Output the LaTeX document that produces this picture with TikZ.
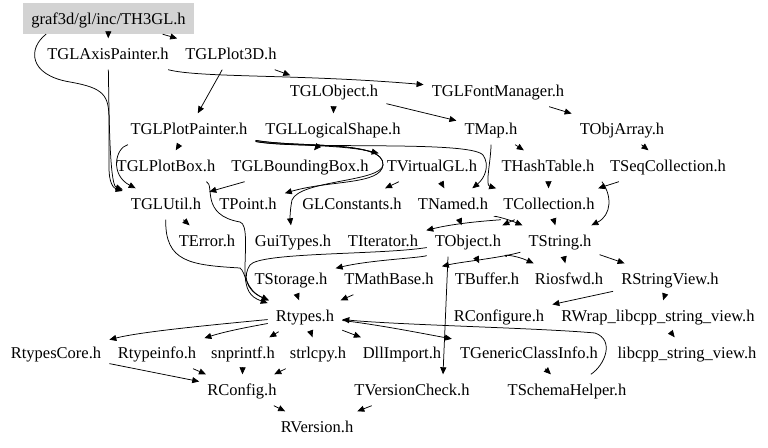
\documentclass[tikz,border=0pt]{standalone}
\usepackage{fontspec}
\setmainfont{Liberation Serif}
\usetikzlibrary{arrows.meta}
\definecolor{rootgray}{RGB}{211,211,211}
\begin{document}
\begin{tikzpicture}[x=1pt,y=-1pt,
  nd/.style={inner xsep=8pt, inner ysep=0pt, minimum height=31pt, text height=12pt, text depth=1pt, font=\fontsize{16.5}{18}\selectfont},
  e/.style={draw=black, line width=0.75pt, -{Triangle[length=7pt,width=6pt]}}]
\fill[white] (0,0) rectangle (768,447);
\useasboundingbox (0,0) rectangle (768,447);
% nodes
\node[nd, fill=rootgray] (th3gl) at (108.5,18.5) {graf3d/gl/inc/TH3GL.h};
\node[nd] (axis) at (108,54) {TGLAxisPainter.h};
\node[nd] (plot3d) at (231,54) {TGLPlot3D.h};
\node[nd] (globj) at (334,91) {TGLObject.h};
\node[nd] (fontmgr) at (498,91) {TGLFontManager.h};
\node[nd] (plotpainter) at (189,129) {TGLPlotPainter.h};
\node[nd] (logshape) at (333,129) {TGLLogicalShape.h};
\node[nd] (tmap) at (491,129) {TMap.h};
\node[nd] (objarr) at (622,129) {TObjArray.h};
\node[nd] (plotbox) at (166,166) {TGLPlotBox.h};
\node[nd] (bbox) at (300,166) {TGLBoundingBox.h};
\node[nd] (vgl) at (432,166) {TVirtualGL.h};
\node[nd] (hasht) at (548,166) {THashTable.h};
\node[nd] (seqcol) at (668,166) {TSeqCollection.h};
\node[nd] (glutil) at (166,204) {TGLUtil.h};
\node[nd] (tpoint) at (248,204) {TPoint.h};
\node[nd] (glconst) at (352,204) {GLConstants.h};
\node[nd] (tnamed) at (453,204) {TNamed.h};
\node[nd] (tcoll) at (549,204) {TCollection.h};
\node[nd] (terror) at (207,241) {TError.h};
\node[nd] (guitypes) at (293,241) {GuiTypes.h};
\node[nd] (titer) at (383,241) {TIterator.h};
\node[nd] (tobject) at (468,241) {TObject.h};
\node[nd] (tstring) at (560,241) {TString.h};
\node[nd] (tstorage) at (291,279) {TStorage.h};
\node[nd] (tmathbase) at (389,279) {TMathBase.h};
\node[nd] (tbuffer) at (487,279) {TBuffer.h};
\node[nd] (riosfwd) at (569,279) {Riosfwd.h};
\node[nd] (rstrview) at (670,279) {RStringView.h};
\node[nd] (rtypes) at (305,316) {Rtypes.h};
\node[nd] (rconfigure) at (499,316) {RConfigure.h};
\node[nd] (rwrap) at (658,316) {RWrap\_libcpp\_string\_view.h};
\node[nd] (rtypescore) at (56,353) {RtypesCore.h};
\node[nd] (rtypeinfo) at (157,353) {Rtypeinfo.h};
\node[nd] (snprintf) at (243,353) {snprintf.h};
\node[nd] (strlcpy) at (318,353) {strlcpy.h};
\node[nd] (dllimport) at (402,353) {DllImport.h};
\node[nd] (tgenci) at (529,353) {TGenericClassInfo.h};
\node[nd] (libcpp) at (687,353) {libcpp\_string\_view.h};
\node[nd] (rconfig) at (242,390) {RConfig.h};
\node[nd] (tvercheck) at (412,390) {TVersionCheck.h};
\node[nd] (tschema) at (567,390) {TSchemaHelper.h};
\node[nd] (rversion) at (317,427) {RVersion.h};
% edges
\draw[e] (th3gl) -- (axis);
\draw[e] (th3gl) -- (plot3d);
\draw[e] ([xshift=23pt]th3gl.south west) .. controls (28,48) and (28,75) .. (70,82) .. controls (104,88) and (109,95) .. (109,120) -- (109,168) .. controls (109,182) and (113,188) .. (glutil);
\draw[e] (axis) .. controls (109,100) and (109,185) .. (glutil);
\draw[e] (plotpainter) .. controls (115,148) and (110,175) .. (glutil);
\draw[e] (axis) .. controls (200,78) and (300,74) .. (fontmgr);
\draw[e] (plot3d) -- (globj);
\draw[e] (plot3d) -- (plotpainter);
\draw[e] (globj) -- (logshape);
\draw[e] (globj) -- (tmap);
\draw[e] (fontmgr) -- (objarr);
\draw[e] (plotpainter) -- (plotbox);
\draw[e] (plotpainter) .. controls (280,146) and (340,144) .. (vgl);
\draw[e] (plotpainter) .. controls (300,148) and (385,140) .. (383,165) .. controls (381,185) and (330,180) .. (tpoint);
\draw[e] (plotpainter) .. controls (300,148) and (385,140) .. (383,165) .. controls (381,182) and (300,180) .. (292,200) .. controls (290,210) and (290,218) .. (guitypes);
\draw[e] (logshape) -- (bbox);
\draw[e] (plotpainter) .. controls (300,150) and (470,140) .. (483,155) .. controls (490,165) and (485,178) .. (tnamed);
\draw[e] (tmap) -- (hasht);
\draw[e] (tmap) .. controls (491,160) and (485,185) .. (tcoll);
\draw[e] (objarr) -- (seqcol);
\draw[e] (vgl) -- (glconst);
\draw[e] (vgl) -- (tnamed);
\draw[e] (hasht) -- (tcoll);
\draw[e] (seqcol) -- (tcoll);
\draw[e] (seqcol.south west) .. controls (612,195) and (612,215) .. (tstring);
\draw[e] (tcoll) -- (tstring);
\draw[e] (tcoll) .. controls (500,220) and (460,222) .. (titer);
\draw[e] (tnamed) -- (tobject);
\draw[e] (tnamed) .. controls (490,215) and (505,218) .. (tstring);
\draw[e] (tcoll) -- (tobject);
\draw[e] (tobject) .. controls (420,258) and (370,260) .. (tstorage);
\draw[e] (tobject) .. controls (380,255) and (260,252) .. (250,265) .. controls (243,275) and (245,290) .. (rtypes);
\draw[e] (glutil) .. controls (165,262) and (190,265) .. (240,268) .. controls (246,272) and (245,290) .. (rtypes);
\draw[e] (plotbox) .. controls (215,185) and (200,215) .. (240,222) .. controls (248,224) and (245,250) .. (245,270) .. controls (245,290) and (250,297) .. (rtypes);
\draw[e] (glutil) -- (terror);
\draw[e] (bbox) -- (glutil);
\draw[e] (tstring) .. controls (500,258) and (460,262) .. (tmathbase);
\draw[e] (tobject) -- (tbuffer);
\draw[e] (tobject) .. controls (500,254) and (515,255) .. (riosfwd);
\draw[e] ([xshift=-20pt]tobject.south) -- ([xshift=31pt]tvercheck.north);
\draw[e] (tstring) -- (riosfwd);
\draw[e] (tstring) -- (rstrview);
\draw[e] (rstrview) -- (rwrap);
\draw[e] (rstrview) -- (rconfigure);
\draw[e] (rwrap) -- (libcpp);
\draw[e] (tmathbase) -- (rtypes);
\draw[e] (tstorage) -- (rtypes);
\draw[e] (rtypes) .. controls (200,326) and (140,332) .. (rtypescore);
\draw[e] (rtypes) .. controls (260,325) and (230,330) .. (rtypeinfo);
\draw[e] (rtypes) -- (snprintf);
\draw[e] (rtypes) -- (strlcpy);
\draw[e] (rtypes) -- (dllimport);
\draw[e] (rtypes) .. controls (380,325) and (420,333) .. (tgenci);
\draw[e] (tschema) .. controls (605,365) and (615,340) .. (595,333) .. controls (540,328) and (400,325) .. (rtypes);
\draw[e] (tgenci) -- (tschema);
\draw[e] (rtypescore) -- (rconfig);
\draw[e] (rtypeinfo) -- (rconfig);
\draw[e] (snprintf) -- (rconfig);
\draw[e] (strlcpy) -- (rconfig);
\draw[e] (rconfig) -- (rversion);
\draw[e] (tvercheck) -- (rversion);
\end{tikzpicture}
\end{document}
